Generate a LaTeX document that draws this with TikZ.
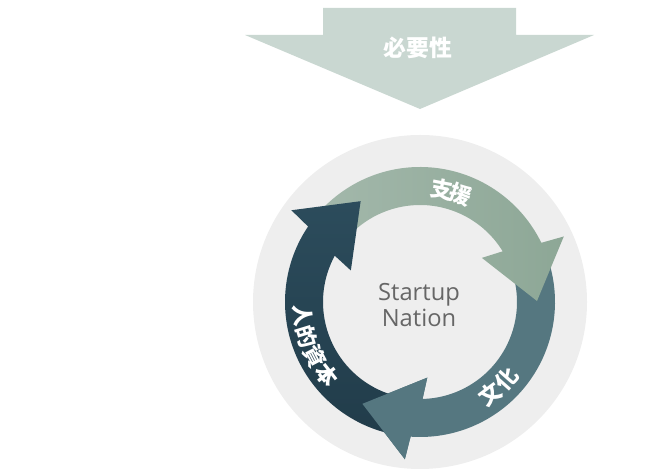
\documentclass[tikz,border=0pt]{standalone}
\usepackage{fontspec}
\setmainfont{Open Sans}
\newfontfamily\cjk{Noto Sans CJK JP}
\definecolor{toparrow}{HTML}{C9D7D1}
\definecolor{disk}{HTML}{EEEEEE}
\definecolor{shien}{HTML}{8DA796}
\definecolor{shienlight}{HTML}{A3B8AB}
\definecolor{bunka}{HTML}{557780}
\definecolor{jinteki}{HTML}{2C4C5C}
\definecolor{jintekidark}{HTML}{213C4A}
\definecolor{nation}{HTML}{666666}
\begin{document}
\begin{tikzpicture}[x=0.02cm,y=0.02cm,
  moji/.style={text=white, font=\cjk\bfseries\fontsize{12.5}{12.5}\selectfont, inner sep=0pt}]
\useasboundingbox (0,0) rectangle (658,472);
\fill[toparrow] (323,464) -- (516,464) -- (516,437) -- (594,437) -- (420,363) -- (245,437) -- (323,437) -- cycle;
\node[moji, font=\cjk\bfseries\fontsize{13}{13}\selectfont] (hitsuyo) at (418,424) {必要性};
\fill[disk] (420,170) circle (167);
\begin{scope}[shift={(420,170)}]
\fill[bunka] (20:135) arc[start angle=20, end angle=-94, radius=135] -- (-95.5:158) -- (-119.5:117) -- (-84.5:76) -- (-88.5:97) arc[start angle=-88.5, end angle=20, radius=97] -- cycle;
\shade[left color=shienlight, right color=shien] (140:135) arc[start angle=140, end angle=26, radius=135] -- (24.5:158) -- (0.5:117) -- (35.5:76) -- (31.5:97) arc[start angle=31.5, end angle=140, radius=97] -- cycle;
\shade[top color=jinteki, bottom color=jintekidark] (260:135) arc[start angle=260, end angle=146, radius=135] -- (144.5:158) -- (120.5:117) -- (155.5:76) -- (151.5:97) arc[start angle=151.5, end angle=260, radius=97] -- cycle;
\fill[bunka] (-94:135) -- (-95.5:158) -- (-119.5:117) -- (-84.5:76) -- (-88.5:97) -- cycle;
\node[moji, rotate=-11] (shien1) at (79:115) {支};
\node[moji, rotate=-20.5] (shien2) at (69.5:115) {援};
\node[moji, rotate=37] (bunka1) at (-53:116) {文};
\node[moji, rotate=48.5] (bunka2) at (-41.5:116) {化};
\node[moji, rotate=276.5] (jinteki1) at (186.5:118) {人};
\node[moji, rotate=287] (jinteki2) at (197:118) {的};
\node[moji, rotate=297.5] (jinteki3) at (207.5:118) {資};
\node[moji, rotate=308] (jinteki4) at (218:118) {本};
\node[text=nation, align=center, font=\fontsize{13.5}{14.7}\selectfont] (startup) at (-1,-3) {Startup\\Nation};
\end{scope}
\end{tikzpicture}
\end{document}
